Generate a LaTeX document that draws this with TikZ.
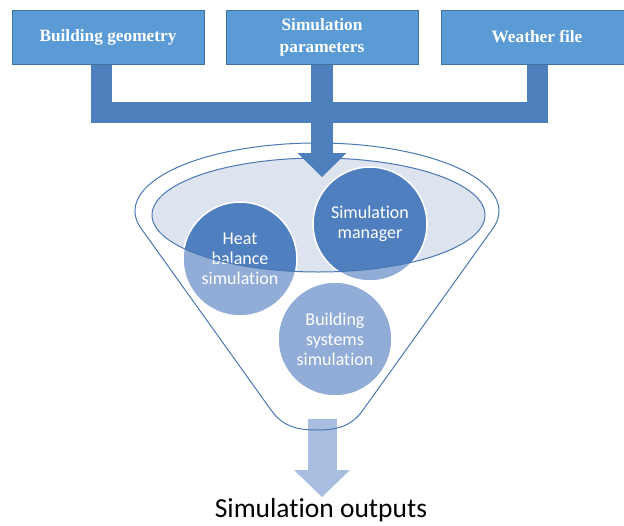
\documentclass[tikz,border=0pt]{standalone}
\usepackage{fontspec}
\setmainfont{Liberation Serif}
\newfontfamily\carlito[Ligatures=NoCommon]{Carlito}
\usetikzlibrary{calc}
\definecolor{boxfill}{HTML}{5B9BD5}
\definecolor{boxline}{HTML}{41719C}
\definecolor{pipe}{HTML}{4E7FBD}
\definecolor{balldark}{HTML}{4F7FBE}
\definecolor{balllight}{HTML}{91ACD7}
\definecolor{rimfill}{HTML}{DDE3EF}
\definecolor{rimline}{HTML}{4A78B5}
\definecolor{spoutc}{HTML}{A8BDE0}

\begin{document}
\begin{tikzpicture}[x=1pt,y=-1pt,
  inbox/.style={rectangle, fill=boxfill, draw=boxline, line width=1pt,
    minimum width=192pt, minimum height=54pt, inner sep=0pt, text=white,
    font=\bfseries\fontsize{17.3}{22}\selectfont, align=center},
  pipeline/.style={draw=pipe, line width=21pt},
  ball/.style={circle, minimum size=114pt, inner sep=0pt, fill=balllight,
    draw=white, line width=1.5pt, text=white,
    font=\carlito\fontsize{18}{20}\selectfont, align=center,
    path picture={\fill[balldark] (rimc) ellipse[x radius=166.5, y radius=57];}},
  rim/.style={draw=rimline, line width=1pt},
]
\useasboundingbox (0,0) rectangle (624,525);
\clip (0,0) rectangle (624,525);

% input boxes
\node[inbox] (geom) at (108,37) {Building geometry};
\node[inbox] (par)  at (322,37) {Simulation\\parameters};
\node[inbox] (wx)   at (537,37) {Weather file};

% outlet arrow below the funnel
\coordinate (spout) at (322,419);
\coordinate (headB) at (322,470);
\coordinate (tipB)  at (322,497);
\draw[draw=spoutc, line width=29pt] (spout) -- ($(headB)+(0,4)$);
\fill[spoutc] ([xshift=-28pt]headB) -- ([xshift=28pt]headB) -- (tipB) -- cycle;

% funnel body
\coordinate (rimc) at (318.5,215);
\path[rim] (141.3,228.7)
  arc[start angle=164.9, end angle=375.1, x radius=182, y radius=68]
  -- (363,410) .. controls (351,427) and (336,430) .. (317,430)
  .. controls (298,430) and (283,427) .. (271,410) -- cycle;
\fill[rimfill] (rimc) ellipse[x radius=166.5, y radius=57];

% processes inside the funnel
\node[ball] (heat) at (240,259) {Heat\\balance\\simulation};
\node[ball] (sys)  at (335,339) {Building\\systems\\simulation};
\node[ball] (mgr)  at (370,224) {Simulation\\manager};

\draw[rim] (rimc) ellipse[x radius=166.5, y radius=57];

% feed lines into the funnel
\coordinate (bar)   at (322,112.5);
\coordinate (headA) at (322,153);
\coordinate (tipA)  at (322,177);
\draw[pipeline] ([xshift=-6.5pt]geom.south) |- (wx.south |- bar) -- (wx.south);
\draw[pipeline, line width=22pt] (par.south) -- (headA);
\fill[pipe] ([xshift=-24.5pt]headA) -- ([xshift=24.5pt]headA) -- (tipA) -- cycle;

% result
\node[font=\carlito\fontsize{27.5}{30}\selectfont, anchor=base] (outs) at (321,517) {Simulation outputs};
\end{tikzpicture}
\end{document}
